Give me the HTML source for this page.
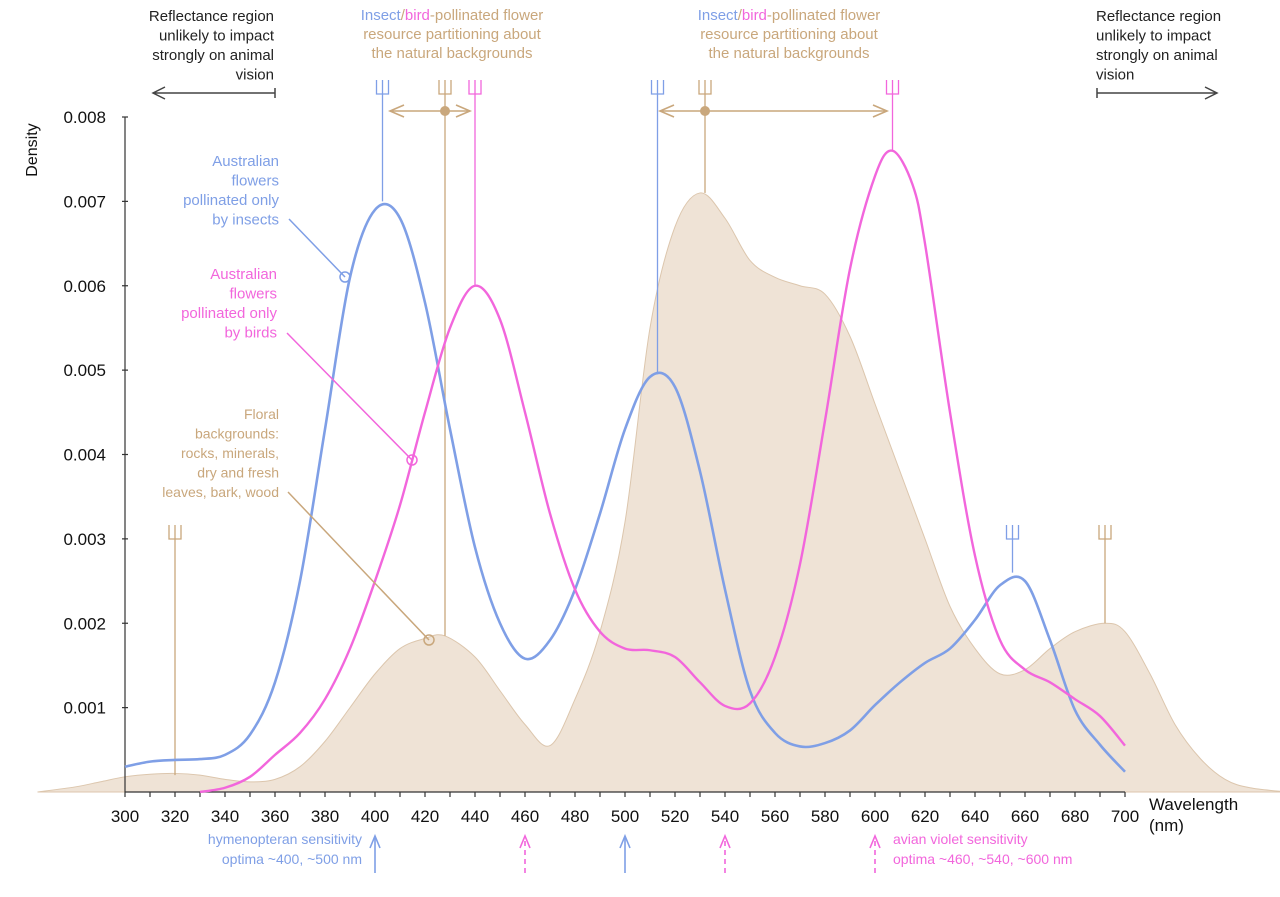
<!DOCTYPE html>
<html><head><meta charset="utf-8"><style>
body{margin:0;background:#fff;}
svg{display:block;font-family:"Liberation Sans",sans-serif;}
</style></head><body>
<svg id="chart" width="1280" height="897" viewBox="0 0 1280 897"></svg>
<script>
const wavelengths = [300,310,320,330,340,350,360,370,380,390,400,410,420,430,440,450,460,470,480,490,500,510,520,530,540,550,560,570,580,590,600,610,620,630,640,650,660,670,680,690,700];
const insectDensity = [0.00030,0.00036,0.00038,0.00039,0.00044,0.00068,0.0013,0.0025,0.0043,0.0061,0.0069,0.0068,0.0058,0.0043,0.0029,0.0020,0.00158,0.0018,0.0024,0.0033,0.0043,0.00492,0.0048,0.0038,0.0024,0.0012,0.0007,0.00054,0.00058,0.00073,0.00103,0.0013,0.00153,0.0017,0.00204,0.00245,0.0025,0.0018,0.00097,0.00056,0.00024];
const birdWavelengths = [330,340,350,360,370,380,390,400,410,420,430,440,450,460,470,480,490,500,510,520,530,540,550,560,570,580,590,600,607,615,620,630,640,650,660,670,680,690,700];
const birdDensity = [0,0.00005,0.00018,0.00044,0.0007,0.0011,0.0017,0.0025,0.0034,0.0045,0.0055,0.0060,0.0056,0.0045,0.0033,0.0024,0.0019,0.0017,0.00168,0.0016,0.0013,0.00102,0.00105,0.0016,0.0027,0.0044,0.0062,0.0073,0.0076,0.0072,0.0065,0.0045,0.0028,0.0018,0.00145,0.0013,0.0011,0.0009,0.00055];
const bgWavelengths = [265,280,290,300,310,320,330,340,350,360,370,380,390,400,410,420,428,440,450,460,470,480,490,500,510,520,530,540,550,560,570,580,590,600,610,620,630,640,650,660,670,680,692,700,710,720,730,740,750,765];
const bgDensity = [0,0.00006,0.00012,0.00018,0.00021,0.00022,0.0002,0.00015,0.00012,0.00015,0.0003,0.0006,0.0010,0.0014,0.0017,0.00182,0.00185,0.0016,0.0012,0.0008,0.00055,0.0011,0.0019,0.0032,0.0055,0.0067,0.0071,0.0068,0.0063,0.0061,0.0060,0.0059,0.0054,0.0046,0.0038,0.0030,0.0022,0.0017,0.0014,0.00145,0.0017,0.0019,0.0020,0.0019,0.0014,0.0008,0.0004,0.00015,0.00005,0];
const xTicks = [300,320,340,360,380,400,420,440,460,480,500,520,540,560,580,600,620,640,660,680,700];
const yTicks = [0.001,0.002,0.003,0.004,0.005,0.006,0.007,0.008];

const X = v => 125 + (v-300)*2.5;
const Y = v => 792 - v*84375;
const NS="http://www.w3.org/2000/svg";
const svg=document.getElementById('chart');
function mk(tag,attrs,parent){const e=document.createElementNS(NS,tag);for(const k in attrs)e.setAttribute(k,attrs[k]);(parent||svg).appendChild(e);return e;}
function smooth(xs,ys){
  const p=xs.map((x,i)=>[X(x),Y(ys[i])]);
  let d=`M${p[0][0]},${p[0][1]}`;
  for(let i=0;i<p.length-1;i++){
    const p0=p[i-1]||p[i],p1=p[i],p2=p[i+1],p3=p[i+2]||p2;
    const c1=[p1[0]+(p2[0]-p0[0])/6,p1[1]+(p2[1]-p0[1])/6];
    const c2=[p2[0]-(p3[0]-p1[0])/6,p2[1]-(p3[1]-p1[1])/6];
    d+=` C${c1[0]},${c1[1]} ${c2[0]},${c2[1]} ${p2[0]},${p2[1]}`;
  }
  return d;
}
const BEIGE='#c9a77c', FILL='#efe3d6', BLUE='#7f9fe6', PINK='#f266dc';

let bgPath=smooth(bgWavelengths,bgDensity)+` L${X(765)},${Y(0)} L${X(265)},${Y(0)} Z`;
let bg=mk('path',{d:bgPath,fill:FILL,stroke:'#dcc6ad','stroke-width':1});



let ax=mk('g',{stroke:'#333','stroke-width':1.2});


mk('line',{x1:125,y1:792,x2:1125,y2:792},ax);
mk('line',{x1:125,y1:117,x2:125,y2:792},ax);
for(let w=300;w<=700;w+=10){mk('line',{x1:X(w),y1:792,x2:X(w),y2:797},ax);}
for(const t of yTicks){mk('line',{x1:122,y1:Y(t),x2:128,y2:Y(t)},ax);}
for(const t of xTicks){
  const e=mk('text',{x:X(t),y:822,'font-size':17,'text-anchor':'middle',fill:'#111'});
  e.textContent=t;
  
  
}
for(const t of yTicks){
  const e=mk('text',{x:106,y:Y(t)+6,'font-size':17,'text-anchor':'end',fill:'#111'});
  e.textContent=t.toFixed(3);
  
  
}
let yt=mk('text',{x:37,y:150,'font-size':16,'text-anchor':'middle',fill:'#111',transform:'rotate(-90 37 150)'});
yt.textContent='Density';


let xt=mk('text',{x:1149,y:810,'font-size':17,fill:'#111'});
xt.innerHTML='<tspan x="1149">Wavelength</tspan><tspan x="1149" dy="21">(nm)</tspan>';



function trident(x,yTop,yBot,color,name){
  const g=mk('g',{stroke:color,'stroke-width':1.3,fill:'none'});
  
  
  mk('line',{x1:x,y1:yTop,x2:x,y2:yBot},g);
  mk('path',{d:`M${x-6},${yTop-14} V${yTop} H${x+6} V${yTop-14} M${x},${yTop} V${yTop-14}`},g);
}
trident(X(403),94,Y(0.0070),BLUE,'insect-peak-marker-403');
trident(X(428),94,Y(0.00185),BEIGE,'background-peak-marker-428');
trident(X(440),94,Y(0.0060),PINK,'bird-peak-marker-440');
trident(X(513),94,Y(0.00495),BLUE,'insect-peak-marker-513');
trident(X(532),94,Y(0.0071),BEIGE,'background-peak-marker-532');
trident(X(607),94,Y(0.0076),PINK,'bird-peak-marker-607');
trident(X(655),539,Y(0.0026),BLUE,'insect-peak-marker-655');
trident(X(692),539,Y(0.0020),BEIGE,'background-peak-marker-692');
trident(X(320),539,Y(0.0002),BEIGE,'background-peak-marker-320');

let bl=mk('path',{d:smooth(wavelengths,insectDensity),fill:'none',stroke:BLUE,'stroke-width':2.6});


let pk=mk('path',{d:smooth(birdWavelengths,birdDensity),fill:'none',stroke:PINK,'stroke-width':2.4});



function dbl(x1,x2,dx,name){
  const g=mk('g',{stroke:BEIGE,'stroke-width':1.6,fill:'none'});
  
  
  const y=111;
  mk('line',{x1:x1,y1:y,x2:x2,y2:y},g);
  mk('path',{d:`M${x1+14},${y-6} L${x1},${y} L${x1+14},${y+6}`},g);
  mk('path',{d:`M${x2-14},${y-6} L${x2},${y} L${x2-14},${y+6}`},g);
  mk('circle',{cx:dx,cy:y,r:5,fill:BEIGE,stroke:'none'},g);
}
dbl(390,470,X(428),'partition-arrow-left');
dbl(660,887,X(532),'partition-arrow-right');

let ra=mk('g',{stroke:'#444','stroke-width':1.5,fill:'none'});


mk('path',{d:'M275,88 V98 M275,93 H153 M165,87 L153,93 L165,99'},ra);
mk('path',{d:'M1097,88 V98 M1097,93 H1217 M1205,87 L1217,93 L1205,99'},ra);

function txt(lines,x,y,anchor,color,size,lh,name){
  const t=mk('text',{x:x,y:y,'font-size':size,'text-anchor':anchor,fill:color});
  lines.forEach((l,i)=>{const s=mk('tspan',{x:x,dy:i?lh:0},t);s.innerHTML=l;});
  
  
}
txt(['Reflectance region','unlikely to impact','strongly on animal','vision'],274,21,'end','#222',15,19.5,'left-reflectance-note');
txt(['Reflectance region','unlikely to impact','strongly on animal','vision'],1096,21,'start','#222',15,19.5,'right-reflectance-note');
const head=`<tspan fill="${BLUE}">Insect</tspan>/<tspan fill="${PINK}">bird</tspan>-pollinated flower`;
txt([head,'resource partitioning about','the natural backgrounds'],452,20,'middle',BEIGE,15,19,'left-partition-note');
txt([head,'resource partitioning about','the natural backgrounds'],789,20,'middle',BEIGE,15,19,'right-partition-note');
txt(['Australian','flowers','pollinated only','by insects'],279,166,'end',BLUE,15,19.5,'insect-legend-label');
txt(['Australian','flowers','pollinated only','by birds'],277,279,'end',PINK,15,19.5,'bird-legend-label');
txt(['Floral','backgrounds:','rocks, minerals,','dry and fresh','leaves, bark, wood'],279,419,'end',BEIGE,14,19.5,'background-legend-label');

function leader(x1,y1,x2,y2,c,name){
  const g=mk('g',{stroke:c,'stroke-width':1.5,fill:'#fff'});
  
  
  mk('line',{x1:x1,y1:y1,x2:x2,y2:y2},g);
  mk('circle',{cx:x2,cy:y2,r:5,fill:'none'},g);
}
leader(289,219,345,277,BLUE,'insect-leader');
leader(287,333,412,460,PINK,'bird-leader');
leader(288,492,429,640,BEIGE,'background-leader');

function up(x,c,dashed,name){
  const g=mk('g',{stroke:c,'stroke-width':1.6,fill:'none'});
  
  
  mk('line',{x1:x,y1:873,x2:x,y2:838,'stroke-dasharray':dashed?'5,4':'none'},g);
  mk('path',{d:`M${x-5},${848} L${x},${836} L${x+5},${848}`},g);
}
up(X(400),BLUE,false,'hymenopteran-arrow-400');
up(X(460),PINK,true,'avian-arrow-460');
up(X(500),BLUE,false,'hymenopteran-arrow-500');
up(X(540),PINK,true,'avian-arrow-540');
up(X(600),PINK,true,'avian-arrow-600');
txt(['hymenopteran sensitivity','optima ~400, ~500 nm'],362,844,'end',BLUE,14,20,'hymenopteran-note');
txt(['avian violet sensitivity','optima ~460, ~540, ~600 nm'],893,844,'start',PINK,14,20,'avian-note');
</script>
</body></html>
